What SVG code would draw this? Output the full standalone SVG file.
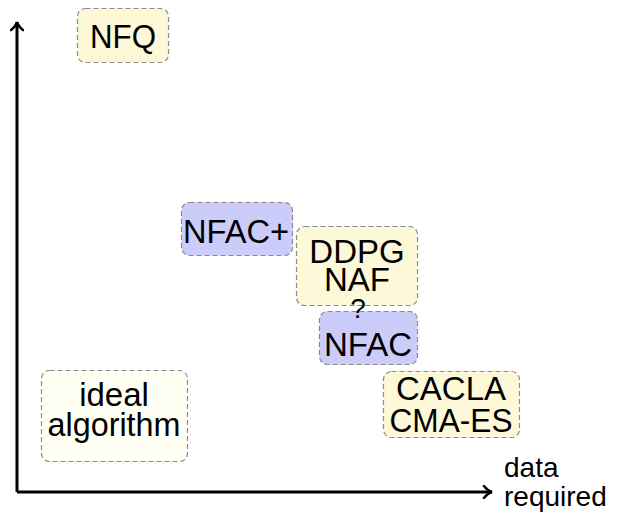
<svg xmlns="http://www.w3.org/2000/svg" width="620" height="516" viewBox="0 0 620 516">
  <defs>
    <marker id="tip" viewBox="0 0 12 14" refX="10" refY="7" markerWidth="12" markerHeight="14" markerUnits="userSpaceOnUse" orient="auto">
      <path d="M2,1 Q6,6 10,7 Q6,8 2,13" fill="none" stroke="#000" stroke-width="2.6" stroke-linecap="round"/>
    </marker>
  </defs>
  <style>
    text { font-family: "Liberation Sans", Arial, sans-serif; font-size: 33px; fill: #000; text-anchor: middle; }
    .box { stroke: #8a8a8a; stroke-width: 1.2; stroke-dasharray: 5 3; }
    .yellow { fill: #fdf8d8; }
    .blue { fill: #ccccfa; }
    .pale { fill: #fffff3; }
    .axis { fill: none; stroke: #000; stroke-width: 3; marker-end: url(#tip); }
  </style>
  <rect width="620" height="516" fill="#fff"/>

  <g id="connectors">
    <line class="axis" x1="17" y1="492" x2="17" y2="22"/>
    <line class="axis" x1="17" y1="492" x2="492" y2="492"/>
  </g>

  <g id="nfq">
    <rect class="box yellow" x="77.5" y="8.5" width="91" height="54" rx="8"/>
    <text x="123" y="48" textLength="66" lengthAdjust="spacingAndGlyphs">NFQ</text>
  </g>

  <g id="nfac-plus">
    <rect class="box blue" x="181.5" y="202.5" width="111" height="53" rx="8"/>
    <text x="236" y="243" textLength="106" lengthAdjust="spacingAndGlyphs">NFAC+</text>
  </g>

  <g id="ddpg-naf">
    <rect class="box yellow" x="296.5" y="226.5" width="121" height="79" rx="8"/>
    <text x="357" y="263">DDPG</text>
    <text x="357" y="291">NAF</text>
  </g>

  <g id="nfac">
    <rect class="box blue" x="319.5" y="311.5" width="98" height="53" rx="8"/>
    <text x="368" y="356">NFAC</text>
  </g>

  <g id="question">
    <text x="358" y="318" style="font-size:28px">?</text>
  </g>

  <g id="ideal">
    <rect class="box pale" x="41.5" y="370.5" width="146" height="91" rx="8"/>
    <text x="114" y="406">ideal</text>
    <text x="114" y="436" textLength="133" lengthAdjust="spacingAndGlyphs">algorithm</text>
  </g>

  <g id="cacla-cmaes">
    <rect class="box yellow" x="383.5" y="371.5" width="136" height="66" rx="8"/>
    <text x="451" y="400">CACLA</text>
    <text x="451" y="432" textLength="123" lengthAdjust="spacingAndGlyphs">CMA-ES</text>
  </g>

  <g id="x-label">
    <text x="504" y="477" style="text-anchor:start;font-size:28px">data</text>
    <text x="504" y="506" style="text-anchor:start;font-size:28px">required</text>
  </g>
</svg>
